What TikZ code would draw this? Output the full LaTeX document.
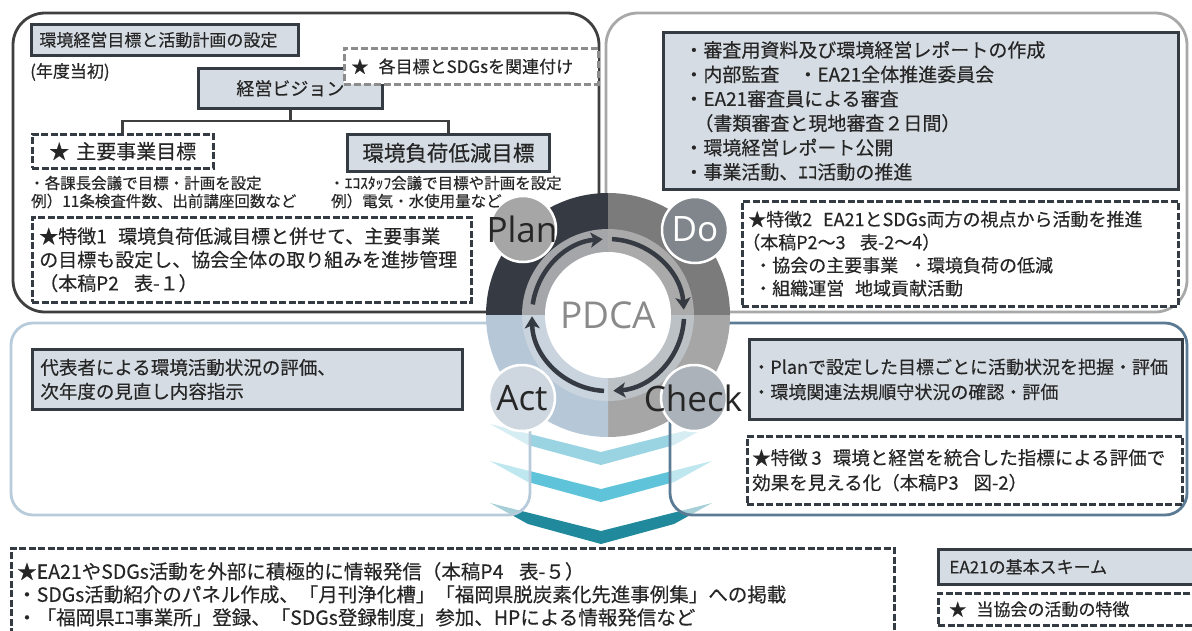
\documentclass[tikz,border=0pt]{standalone}
\usepackage{fontspec}
\setmainfont{Noto Sans CJK JP}[FakeBold=0.3]
\newfontfamily\pdcafont{Open Sans}
\usetikzlibrary{arrows.meta,calc}

\definecolor{ink}{HTML}{262626}
\definecolor{boxfill}{HTML}{D5DCE3}
\definecolor{boxline}{HTML}{353B43}
\definecolor{dashgray}{HTML}{8C8C8C}
\definecolor{frameTL}{HTML}{3F3F3F}
\definecolor{frameTR}{HTML}{A8A8A8}
\definecolor{frameBL}{HTML}{B8CBDB}
\definecolor{frameBR}{HTML}{5B7B95}
\definecolor{qTL}{HTML}{363B43}
\definecolor{qTR}{HTML}{7B7B7B}
\definecolor{qBR}{HTML}{A6A6A6}
\definecolor{qBL}{HTML}{B6C8D7}
\definecolor{bTL}{HTML}{A4A6AA}
\definecolor{bTR}{HTML}{AAAAAA}
\definecolor{bBR}{HTML}{BCC1C6}
\definecolor{bBL}{HTML}{C9D4DE}
\definecolor{cPlan}{HTML}{A6A6A6}
\definecolor{cDo}{HTML}{80868C}
\definecolor{cCheck}{HTML}{ABB2B9}
\definecolor{cAct}{HTML}{CED7DF}
\definecolor{chevA}{HTML}{9AD4E3}
\definecolor{chevB}{HTML}{5FC4DA}
\definecolor{chevC}{HTML}{21899C}
\definecolor{pdcagray}{HTML}{8A8A8A}

\newcommand\setfs[2]{\fontsize{#1pt}{#2pt}\selectfont}

\tikzset{
  panel/.style={line width=2.8pt, rounded corners=32pt},
  lowpanel/.style={line width=2.8pt, rounded corners=22pt, fill=white, fill opacity=0.6},
  basebox/.style={anchor=north west, inner ysep=0pt, text=ink},
  fillbox/.style={basebox, draw=boxline, line width=2.8pt, fill=boxfill},
  dashbox/.style={basebox, draw=boxline, line width=2.5pt, dash pattern=on 7pt off 2.5pt, fill=white},
  graybox/.style={basebox, draw=dashgray, line width=2.8pt, dash pattern=on 7pt off 3pt, fill=white},
  note/.style={anchor=west, inner sep=0pt, text=ink, font=\setfs{15.5}{18}},
  conn/.style={draw=frameTL, line width=2.6pt},
  cycarrow/.style={draw=qTL, line width=4.5pt, -{Stealth[length=12pt,width=15pt,inset=3pt]}},
  lblcirc/.style={circle, draw=white, line width=2.5pt, minimum size=66pt, inner sep=0pt},
  lbltext/.style={inner sep=0pt, font=\pdcafont\setfs{35}{35}},
}

\begin{document}
\begin{tikzpicture}[x=1pt,y=-1pt]
\useasboundingbox (0,0) rectangle (1192,630);
\clip (0,0) rectangle (1192,630);
\fill[white] (0,0) rectangle (1192,630);

% flow chevrons under the cycle
\fill[chevA] (490,424) -- (601,452) -- (712,424) -- (674,445) -- (601,465) -- (528,445) -- cycle;
\fill[chevB] (490,461) -- (601,489) -- (712,461) -- (674,482) -- (601,502) -- (528,482) -- cycle;
\fill[chevC] (490,503) -- (601,531) -- (712,503) -- (674,524) -- (601,544) -- (528,524) -- cycle;

% four phase panels
\draw[panel, draw=frameTL] (13,13) rectangle (599,312);
\draw[panel, draw=frameTR] (606,13) rectangle (1187,312);
\draw[lowpanel, draw=frameBL] (11,323) rectangle (530,515);
\draw[lowpanel, draw=frameBR] (670,323) rectangle (1187,515);

% PDCA ring
\coordinate (O) at (608,315);
\fill[qTL] (O) -- ([shift={(O)}]180:122) arc[start angle=180, end angle=270, radius=122] -- cycle;
\fill[qTR] (O) -- ([shift={(O)}]270:122) arc[start angle=270, end angle=360, radius=122] -- cycle;
\fill[qBR] (O) -- ([shift={(O)}]0:122) arc[start angle=0, end angle=90, radius=122] -- cycle;
\fill[qBL] (O) -- ([shift={(O)}]90:122) arc[start angle=90, end angle=180, radius=122] -- cycle;
\fill[bTL] (O) -- ([shift={(O)}]180:86) arc[start angle=180, end angle=270, radius=86] -- cycle;
\fill[bTR] (O) -- ([shift={(O)}]270:86) arc[start angle=270, end angle=360, radius=86] -- cycle;
\fill[bBR] (O) -- ([shift={(O)}]0:86) arc[start angle=0, end angle=90, radius=86] -- cycle;
\fill[bBL] (O) -- ([shift={(O)}]90:86) arc[start angle=90, end angle=180, radius=86] -- cycle;
\fill[white] (O) circle[radius=63];

\draw[cycarrow] ([shift={(O)}]93:76) arc[start angle=93, end angle=179, radius=76];
\draw[cycarrow] ([shift={(O)}]188:76) arc[start angle=188, end angle=266, radius=76];
\draw[cycarrow] ([shift={(O)}]273:76) arc[start angle=273, end angle=356, radius=76];
\draw[cycarrow] ([shift={(O)}]3:76) arc[start angle=3, end angle=86, radius=76];

\node[inner sep=0pt, font=\pdcafont\setfs{37}{37}, text=pdcagray] (pdca) at (O) {PDCA};

\node[lblcirc, fill=cPlan] (cPlan) at (523,229) {};
\node[lbltext, text=ink] (tPlan) at (522,229) {Plan};
\node[lblcirc, fill=cDo] (cDo) at (695,230) {};
\node[lbltext, text=white] (tDo) at (695,229) {Do};
\node[lblcirc, fill=cCheck] (cCheck) at (694,398) {};
\node[lbltext, text=ink] (tCheck) at (693,398) {Check};
\node[lblcirc, fill=cAct] (cAct) at (522,398) {};
\node[lbltext, text=ink] (tAct) at (522,398) {Act};

% Plan panel
\node[fillbox, minimum width=267pt, minimum height=31pt, text width=251pt, inner xsep=8pt, align=left, font=\setfs{17}{20}] (hdr) at (30,23) {環境経営目標と活動計画の設定};
\node[note, font=\setfs{17}{20}] (year) at (30,72) {(年度当初)};
\node[fillbox, minimum width=184pt, minimum height=40pt, inner xsep=0pt, align=center, font=\setfs{18}{20}] (vision) at (197,67) {経営ビジョン};
\node[graybox, minimum width=254pt, minimum height=36pt, text width=240pt, inner xsep=7pt, align=left, font=\setfs{17}{20}] (sdg) at (343,47) {★\hspace{0.6em}各目標とSDGsを関連付け};
\node[dashbox, minimum width=181pt, minimum height=34pt, inner xsep=0pt, align=center, font=\setfs{20}{22}] (goalA) at (31,133) {★\hspace{0.35em}主要事業目標};
\node[fillbox, minimum width=202pt, minimum height=37pt, inner xsep=0pt, align=center, font=\setfs{21.5}{24}] (goalB) at (346,133) {環境負荷低減目標};
\draw[conn] (vision.south) -- ++(0,11) coordinate (hub) -| (goalA.north);
\draw[conn] (hub) -| (goalB.north);
\node[note] (noteA1) at (29,183) {・各課長会議で目標・計画を設定};
\node[note] (noteA2) at (31,201) {例）11条検査件数、出前講座回数など};
\node[note] (noteB1) at (329,183) {・ｴｺｽﾀｯﾌ会議で目標や計画を設定};
\node[note] (noteB2) at (331,201) {例）電気・水使用量など};
\node[dashbox, minimum width=439pt, minimum height=85pt, text width=425pt, inner xsep=7pt, align=left, font=\setfs{19}{23.5}] (feat1) at (31,216)
  {★特徴1\hspace{0.6em}環境負荷低減目標と併せて、主要事業\\の目標も設定し、協会全体の取り組みを進捗管理\\（本稿P2\hspace{0.8em}表-１）};

% Do panel
\node[fillbox, minimum width=515pt, minimum height=157pt, text width=473pt, inner xsep=21pt, align=left, font=\setfs{19}{24.4}] (doBox) at (662,31)
  {・審査用資料及び環境経営レポートの作成\\
   ・内部監査　・EA21全体推進委員会\\
   ・EA21審査員による審査\\
   \hspace*{10pt}（書類審査と現地審査２日間）\\
   ・環境経営レポート公開\\
   ・事業活動、ｴｺ活動の推進};
\node[dashbox, minimum width=436pt, minimum height=105pt, text width=424pt, inner xsep=6pt, align=left, font=\setfs{18}{23}] (feat2) at (741,200)
  {★特徴2\hspace{0.6em}EA21とSDGs両方の視点から活動を推進\\
   \hspace*{-6pt}（本稿P2～3\hspace{0.8em}表-2～4）\\
   \hspace*{6pt}・協会の主要事業\hspace{0.6em}・環境負荷の低減\\
   \hspace*{6pt}・組織運営\hspace{0.6em}地域貢献活動};

% Act panel
\node[fillbox, minimum width=430pt, minimum height=60pt, text width=414pt, inner xsep=8pt, align=left, font=\setfs{18.5}{24}] (actBox) at (31,348)
  {代表者による環境活動状況の評価、\\次年度の見直し内容指示};

% Check panel
\node[fillbox, minimum width=433pt, minimum height=80pt, text width=427pt, inner xsep=3pt, align=left, font=\setfs{18}{25}] (chkBox) at (748,338)
  {・Planで設定した目標ごとに活動状況を把握・評価\\・環境関連法規順守状況の確認・評価};
\node[dashbox, minimum width=435pt, minimum height=68pt, text width=425pt, inner xsep=5pt, align=left, font=\setfs{18.5}{25}] (feat3) at (746,435)
  {★特徴\hspace{0.2em}3\hspace{0.6em}環境と経営を統合した指標による評価で\\効果を見える化（本稿P3\hspace{0.8em}図-2）};

% outreach and legend
\node[dashbox, minimum width=883pt, minimum height=92pt, text width=871pt, inner xsep=6pt, align=left, font=\setfs{19.5}{23}] (pubBox) at (10,547)
  {★EA21やSDGs活動を外部に積極的に情報発信（本稿P4\hspace{0.8em}表-５）\\
   ・SDGs活動紹介のパネル作成、「月刊浄化槽」「福岡県脱炭素化先進事例集」への掲載\\
   ・「福岡県ｴｺ事業所」登録、「SDGs登録制度」参加、HPによる情報発信など};
\node[fillbox, minimum width=262pt, minimum height=35pt, text width=240pt, inner xsep=11pt, align=left, font=\setfs{17}{20}] (legA) at (937,548) {EA21の基本スキーム};
\node[dashbox, minimum width=262pt, minimum height=32pt, text width=240pt, inner xsep=11pt, align=left, font=\setfs{17}{20}] (legB) at (937,592) {★\hspace{0.6em}当協会の活動の特徴};
\end{tikzpicture}
\end{document}
